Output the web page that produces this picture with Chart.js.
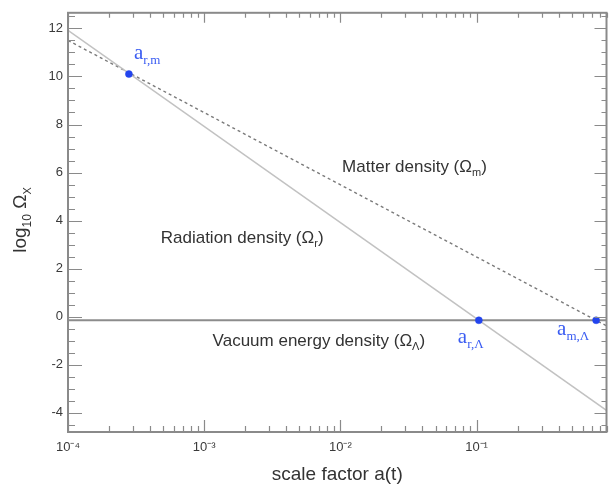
<!DOCTYPE html>
<html>
<head>
<meta charset="utf-8">
<script src="https://cdn.jsdelivr.net/npm/chart.js@4.4.1/dist/chart.umd.min.js"></script>
<style>
  html, body { margin: 0; padding: 0; background: #fff; }
  #wrap { width: 611px; height: 494px; }
</style>
</head>
<body>
<div id="wrap"><canvas id="omega"></canvas></div>
<script>
// scale factor range and log10 Omega of each component at both ends
const aRange = [1e-4, 0.9];
const radiation = [11.92, -3.9];
const matter = [11.5, -0.38];
const vacuum = [-0.15, -0.15];

// equality epochs
const eqA = [2.8e-4, 0.104, 0.755];
const eqV = [10.1, -0.15, -0.15];
const eqSub = ["r,m", "r,\u039b", "m,\u039b"];

const xTicks = [1e-4, 1e-3, 1e-2, 1e-1];
const yTicks = [-4, -2, 0, 2, 4, 6, 8, 10, 12];

const SANS = "'Liberation Sans', Arial, sans-serif";
const SERIF = "'Liberation Serif', 'Times New Roman', serif";
const BLUE = "#3a5cf2";

const sup = { "-": "\u207b", "0": "\u2070", "1": "\u00b9", "2": "\u00b2", "3": "\u00b3",
  "4": "\u2074", "5": "\u2075", "6": "\u2076", "7": "\u2077", "8": "\u2078", "9": "\u2079" };
const pow10 = v => "10" + String(Math.round(Math.log10(v))).split("").map(c => sup[c]).join("");

// draw a run of [text, font, dy] pieces starting at x (or centred on x)
function rich(ctx, x, y, parts, center) {
  let w = 0;
  parts.forEach(p => { ctx.font = p[1]; w += ctx.measureText(p[0]).width; });
  let cx = center ? x - w / 2 : x;
  parts.forEach(p => {
    ctx.font = p[1];
    ctx.fillText(p[0], cx, y + (p[2] || 0));
    cx += ctx.measureText(p[0]).width;
  });
}

const pairs = (xs, ys) => xs.map((x, i) => ({ x: x, y: ys[i] }));

const notes = [
  { a: 0.035, v: 6.03, text: "Matter density (\u03a9", sub: "m" },
  { a: 1.9e-3, v: 3.05, text: "Radiation density (\u03a9", sub: "r" },
  { a: 6.95e-3, v: -1.2, text: "Vacuum energy density (\u03a9", sub: "\u039b" }
];
const eqOffset = [[5, -15], [-21, 23], [-39, 15]];

const decorations = {
  id: "decorations",
  afterDraw(chart) {
    const { ctx, chartArea: ar, scales: { x, y } } = chart;
    ctx.save();

    // inward tick marks on all four sides
    ctx.strokeStyle = "#8a8a8a";
    ctx.lineWidth = 1.2;
    ctx.beginPath();
    for (let e = -4; e <= 0; e++) {
      for (let m = 1; m <= 9; m++) {
        const a = m * Math.pow(10, e);
        if (a < x.min * 0.999 || a > x.max * 1.001) continue;
        const px = Math.round(x.getPixelForValue(a)) + 0.5;
        const bl = m === 1 ? 12 : 6, tl = m === 1 ? 10 : 5;
        ctx.moveTo(px, ar.bottom); ctx.lineTo(px, ar.bottom - bl);
        ctx.moveTo(px, ar.top); ctx.lineTo(px, ar.top + tl);
      }
    }
    for (let v = Math.ceil(y.min * 2) / 2; v <= y.max; v += 0.5) {
      const py = Math.round(y.getPixelForValue(v)) + 0.5;
      const major = v % 2 === 0;
      const ll = major ? 14 : 7, rl = major ? 12 : 5;
      ctx.moveTo(ar.left, py); ctx.lineTo(ar.left + ll, py);
      ctx.moveTo(ar.right, py); ctx.lineTo(ar.right - rl, py);
    }
    ctx.stroke();

    // frame
    ctx.lineWidth = 2;
    ctx.strokeStyle = "#8a8a8a";
    ctx.strokeRect(ar.left, ar.top, ar.right - ar.left, ar.bottom - ar.top);

    // component labels
    ctx.fillStyle = "#333";
    ctx.textBaseline = "alphabetic";
    ctx.textAlign = "left";
    notes.forEach(n => {
      rich(ctx, x.getPixelForValue(n.a), y.getPixelForValue(n.v), [
        [n.text, "17px " + SANS],
        [n.sub, "11px " + SANS, 4],
        [")", "17px " + SANS]
      ], true);
    });

    // equality labels
    ctx.fillStyle = BLUE;
    eqA.forEach((a, i) => {
      const px = x.getPixelForValue(a) + eqOffset[i][0];
      const py = y.getPixelForValue(eqV[i]) + eqOffset[i][1];
      rich(ctx, px, py, [["a", "21px " + SERIF], [eqSub[i], "13px " + SERIF, 5]], false);
    });

    // y axis title
    ctx.fillStyle = "#333";
    ctx.translate(26, 220);
    ctx.rotate(-Math.PI / 2);
    rich(ctx, 0, 0, [
      ["log", "19px " + SANS],
      ["10", "12px " + SANS, 5],
      [" \u03a9", "19px " + SANS],
      ["X", "11px " + SANS, 5]
    ], true);
    ctx.restore();
  }
};

new Chart(document.getElementById("omega"), {
  type: "scatter",
  data: {
    datasets: [
      {
        label: "equality",
        data: pairs(eqA, eqV),
        showLine: false,
        pointRadius: 3.5,
        pointBackgroundColor: "#2244ee",
        pointBorderColor: "#2244ee",
        pointBorderWidth: 0.5,
        order: 0,
      },
      {
        label: "radiation",
        data: pairs(aRange, radiation),
        showLine: true,
        borderColor: "#c2c2c2",
        borderWidth: 1.6,
        pointRadius: 0,
        order: 1,
      },
      {
        label: "matter",
        data: pairs(aRange, matter),
        showLine: true,
        borderColor: "#7a7a7a",
        borderWidth: 1.4,
        borderDash: [3, 3],
        pointRadius: 0,
        order: 1,
      },
      {
        label: "vacuum",
        data: pairs(aRange, vacuum),
        showLine: true,
        borderColor: "#8c8c8c",
        borderWidth: 2,
        pointRadius: 0,
        order: 1,
      },
    ],
  },
  options: {
    responsive: true,
    maintainAspectRatio: false,
    animation: false,
    layout: { padding: { left: 0, right: 2, top: 5, bottom: 0 } },
    plugins: { legend: { display: false }, tooltip: { enabled: false } },
    scales: {
      x: {
        type: "logarithmic",
        min: aRange[0],
        max: aRange[1],
        grid: { display: false, drawTicks: false },
        border: { display: false },
        afterBuildTicks: s => { s.ticks = xTicks.map(v => ({ value: v })); },
        afterFit: s => { s.height = 62; },
        ticks: {
          autoSkip: false,
          maxRotation: 0,
          padding: 8,
          color: "#3a3a3a",
          font: { family: SANS, size: 13 },
          callback: v => pow10(v),
        },
        title: {
          display: true,
          text: "scale factor a(t)",
          color: "#333",
          font: { family: SANS, size: 19 },
          padding: { top: 0, bottom: 8 },
        },
      },
      y: {
        min: -4.8,
        max: 12.65,
        grid: { display: false, drawTicks: false },
        border: { display: false },
        afterBuildTicks: s => { s.ticks = yTicks.map(v => ({ value: v })); },
        afterFit: s => { s.width = 68; },
        ticks: {
          padding: 5,
          color: "#3a3a3a",
          font: { family: SANS, size: 13 },
        },
      },
    },
  },
  plugins: [decorations],
});
</script>
</body>
</html>
